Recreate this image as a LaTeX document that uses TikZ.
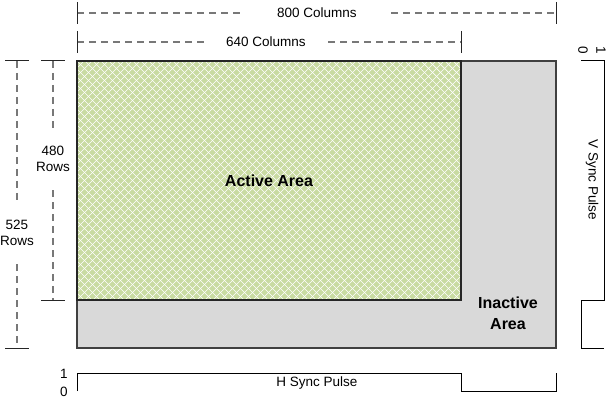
\documentclass[tikz,border=0pt]{standalone}
\usepackage{fontspec}
\setmainfont{Liberation Sans}
\usetikzlibrary{positioning}
\definecolor{activegreen}{RGB}{201,219,162}
\definecolor{inactivegray}{RGB}{217,217,217}
\definecolor{dimgray}{RGB}{120,120,120}

\begin{document}
\begin{tikzpicture}[x=1pt,y=-1pt,line width=1pt,
  dim/.style={draw=dimgray,dash pattern=on 7pt off 5pt,line width=1.3pt},
  tick/.style={draw=black!85,line width=1pt},
  lbl/.style={font=\fontsize{13.5}{16}\selectfont,align=center,inner sep=1pt},
  area/.style={font=\bfseries\fontsize{16}{21}\selectfont,align=center},
  sig/.style={draw=black,line width=1pt}]
 \useasboundingbox (0,0) rectangle (611,401);
 % screen: inactive frame with the active part in its top left corner
 \draw[fill=inactivegray,draw=black!75,line width=1.3pt] (77,61) rectangle (556,348);
 \fill[activegreen] (77,61) rectangle (461,300);
 \begin{scope}
  \clip (77,61) rectangle (461,300);
  \foreach \i in {-240,-232,...,384}
   {\draw[white,line width=0.7pt] (77+\i,61) -- ++(240,240);
    \draw[white,line width=0.7pt] (77+\i,300) -- ++(240,-240);}
 \end{scope}
 \draw[black!85,line width=1.3pt] (77,61) rectangle (461,300);
 \node[area] (active) at (269,181) {Active Area};
 \node[area] (inactive) at (508,313) {Inactive\\Area};
 % column counts
 \coordinate (c8l) at (77,13); \coordinate (c8r) at (556,13);
 \coordinate (c6l) at (77,42); \coordinate (c6r) at (461,42);
 \node[lbl,inner xsep=34pt] (cols800) at (317,13) {800 Columns};
 \node[lbl,inner xsep=22pt] (cols640) at (266,42) {640 Columns};
 \draw[dim] (c8l) -- (cols800); \draw[dim] (cols800) -- (c8r);
 \draw[dim] (c6l) -- (cols640); \draw[dim] (cols640) -- (c6r);
 \foreach \c in {c8l,c8r,c6l,c6r} \draw[tick] (\c) ++(0,-11) -- ++(0,22);
 % row counts
 \coordinate (r5t) at (17,61); \coordinate (r5b) at (17,348);
 \coordinate (r4t) at (53,61); \coordinate (r4b) at (53,300);
 \node[lbl,inner ysep=18pt] (rows525) at (17,233) {525\\Rows};
 \node[lbl,inner ysep=18pt] (rows480) at (53,159) {480\\Rows};
 \draw[dim] (r5t) -- (rows525); \draw[dim] (rows525) -- (r5b);
 \draw[dim] (r4t) -- (rows480); \draw[dim] (rows480) -- (r4b);
 \foreach \r in {r5t,r5b,r4t,r4b} \draw[tick] (\r) ++(-12,0) -- ++(24,0);
 % sync signals
 \draw[sig] (77,391) -- (77,373) -- (461,373) -- (461,391) -- (556,391) -- (556,373);
 \node[lbl] (hone) at (64,374) {1};
 \node[lbl] (hzero) at (64,392) {0};
 \node[lbl] (hsync) at (317,383) {H Sync Pulse};
 \draw[sig] (581,61) -- (604,61) -- (604,300) -- (581,300) -- (581,348) -- (604,348);
 \node[lbl,rotate=-90] (vone) at (601,50) {1};
 \node[lbl,rotate=-90] (vzero) at (583,50) {0};
 \node[lbl,rotate=-90] (vsync) at (592,180) {V Sync Pulse};
\end{tikzpicture}
\end{document}
